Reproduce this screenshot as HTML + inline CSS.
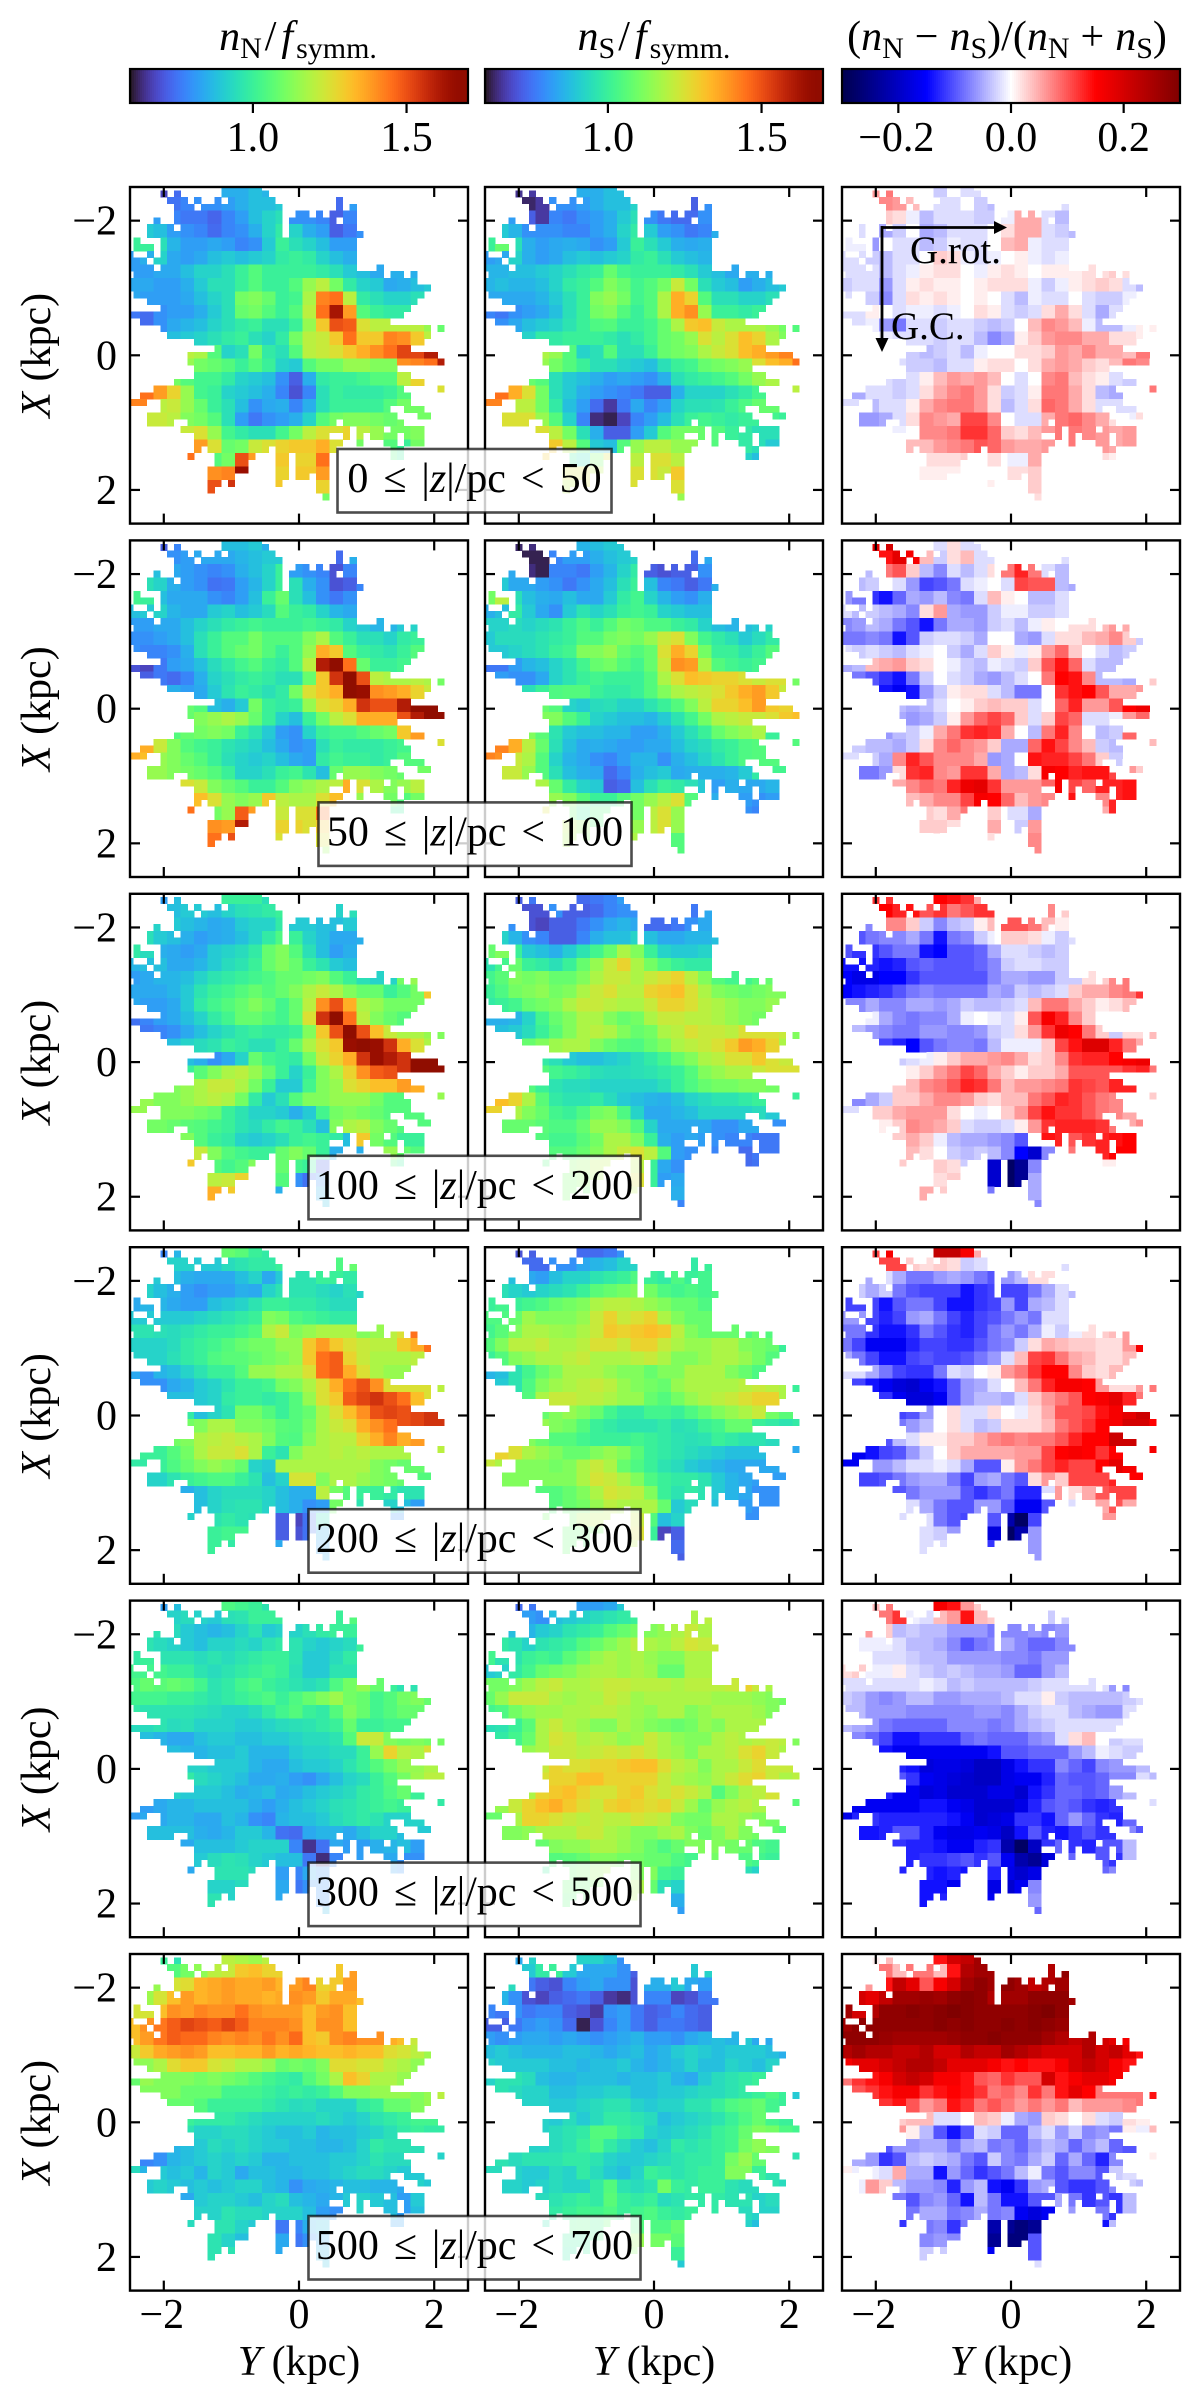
<!DOCTYPE html>
<html lang="en"><head><meta charset="utf-8"><title>Star density asymmetry maps</title>
<style>html,body{margin:0;padding:0;background:#fff}svg{display:block}text{font-family:"Liberation Serif",serif;fill:#000}</style></head>
<body>
<svg id="fig" xmlns="http://www.w3.org/2000/svg" width="1200" height="2406" viewBox="0 0 1200 2406">
<g id="maps"></g>
<g id="axes"></g>
<g font-size="42">
<text x="298" y="50" text-anchor="middle"><tspan font-style="italic">n</tspan><tspan font-size="30" dy="8">N</tspan><tspan dy="-8" dx="3">/</tspan><tspan dx="5" font-style="italic">f</tspan><tspan font-size="30" dy="8" dx="3">symm.</tspan></text>
<text x="654" y="50" text-anchor="middle"><tspan font-style="italic">n</tspan><tspan font-size="30" dy="8">S</tspan><tspan dy="-8" dx="3">/</tspan><tspan dx="5" font-style="italic">f</tspan><tspan font-size="30" dy="8" dx="3">symm.</tspan></text>
<text x="1007" y="50" text-anchor="middle">(<tspan font-style="italic">n</tspan><tspan font-size="30" dy="8">N</tspan><tspan dy="-8" dx="11">−</tspan><tspan dx="11" font-style="italic">n</tspan><tspan font-size="30" dy="8">S</tspan><tspan dy="-8">)/(</tspan><tspan font-style="italic">n</tspan><tspan font-size="30" dy="8">N</tspan><tspan dy="-8" dx="11">+</tspan><tspan dx="11" font-style="italic">n</tspan><tspan font-size="30" dy="8">S</tspan><tspan dy="-8">)</tspan></text>
</g>
<g id="annot">
<line x1="882" y1="227.5" x2="996" y2="227.5" stroke="#000" stroke-width="2.8"/>
<polygon points="1007,227.5 994,221 994,234" fill="#000"/>
<line x1="882" y1="226" x2="882" y2="340" stroke="#000" stroke-width="2.8"/>
<polygon points="882,352 875.500,338 888.500,338" fill="#000"/>
<text x="910" y="263" font-size="39">G.rot.</text>
<text x="891" y="339" font-size="39">G.C.</text>
</g>
<g id="legends"></g>
</svg>
<script>
// Shared grid bookkeeping: first 0.2 kpc block of each block row, and which 0.1 kpc bins hold stars.
const rowStart=[2,3,2,1,0,0,0,0,0,0,1,3,4,4,3,1,0,1,4,5,4,6,6,14];
const coverageRuns=["14-19","5 7 14-20","6-8 10 13 15-21 31","7-9 11-22 31 33","7-22 25-26 28 30-33","4 7-22 24-30 32-33","3-6 8-22 24-33","3-22 24-34","1 5-33","1-3 5-33","0 3 5-33","0-2 4-33","0-3 5-33 37","1-37 39-40 42","0-42","0-44","1-43","3-42","5-41","0-40","2-38","5-44 46","6-44","10-43","13-41","9-45","9-46","10-39","10-41","7-43","4-40 46","2-41","0-2 5-41","5-38 41-43","3-39 43-44","3-6 9-30 32-40","8-32 34-37 39-43","10-29 32 34 36-39 41-43","10-31 34 38-39 41-43","10 12-20 22-30 39-40","9 13-18 22-23 25-29 39-40","13-17 22-23 25-29","12-17 22-23 25-29","12-15 22-23 25-26 28-29","12-13 15 22 28-29","12 28-29","29"];
const heightBins=["0 ≤ |z|/pc < 50","50 ≤ |z|/pc < 100","100 ≤ |z|/pc < 200","200 ≤ |z|/pc < 300","300 ≤ |z|/pc < 500","500 ≤ |z|/pc < 700"];
const axisTicks=[-2,0,2];
const densityTicks=[1.0,1.5];
const asymmetryTicks=[-0.2,0.0,0.2];

// Values are hundredths of the mapped quantity.
const north0=[
[68,74,82,80,82,85,85,88,86],
[75,78,80,80,82,85,88,88,90,85,82,80,74,82],
[82,78,76,76,73,78,82,88,92,95,80,80,78,72,78],
[90,88,82,80,78,74,78,80,85,92,98,92,85,82,72,76,80],
[100,100,95,86,82,82,84,82,78,80,90,100,95,92,88,82,82],
[82,85,92,84,82,84,88,90,88,90,92,98,100,98,92,88,85],
[82,82,84,84,88,92,92,95,100,105,100,100,100,100,98,95,90,88,84,85,85,85],
[84,84,82,82,85,90,95,95,100,105,100,100,105,115,120,110,98,92,90,84,85,88,90],
[84,82,82,82,84,88,92,95,110,112,108,100,102,118,142,145,120,98,95,92,92,95],
[76,74,80,82,82,85,90,95,108,110,105,100,105,120,145,162,138,105,100,98,98],
[74,80,84,86,88,92,95,98,100,95,95,100,115,130,150,148,125,120,120,120,120,115,108],
[88,90,92,95,98,100,95,92,98,110,120,122,130,145,130,130,142,140,130,120],
[120,118,105,92,95,110,98,95,105,120,122,125,130,135,140,145,152,152,160],
[115,110,108,105,100,105,100,92,90,105,110,110,115,115,112,112,140,142,145,160],
[110,105,102,102,98,92,90,88,80,72,85,98,100,100,102,105,105,120,128],
[145,138,128,115,102,100,92,90,88,85,78,70,78,95,100,98,98,98,100,105,115,115,125],
[142,142,120,122,115,108,100,95,88,80,84,85,78,85,95,100,100,100,100,105,110,110],
[122,122,120,112,110,105,95,82,76,80,82,85,92,105,110,112,112,110,108,110,110,110],
[122,125,115,102,98,95,95,102,110,120,125,125,128,120,115,110,110,112],
[138,125,108,110,122,125,128,130,130,135,125,120,110,110,105,100,110],
[145,120,105,110,150,138,110,130,128,128,145,120,110,110,110,105,100],
[140,142,165,160,120,128,130,130,138],
[150,155,120,120,120,130,128,128,128],
[110]];
const south0=[
[65,66,80,80,82,85,85,88,88],
[63,66,80,80,82,85,88,88,92,88,75,74,72,80],
[82,72,66,78,76,80,82,85,90,95,80,76,74,74,80],
[90,86,80,80,80,78,78,82,85,92,98,90,82,80,76,78,85],
[100,108,95,85,82,84,85,84,80,82,90,100,95,90,85,84,85],
[82,84,92,85,82,84,88,90,88,90,92,98,100,95,90,88,86],
[86,86,88,88,90,92,95,98,100,108,102,100,100,100,98,95,90,88,84,85,85,85],
[86,88,86,86,88,92,98,100,105,112,108,102,105,110,122,110,95,90,88,82,85,88,90],
[84,84,84,84,86,90,95,100,112,115,110,102,105,118,135,128,105,95,95,92,92,95],
[78,76,80,82,84,88,95,100,110,112,105,100,105,118,135,140,115,100,100,98,100],
[80,84,88,90,92,96,100,104,105,100,100,102,108,118,130,132,122,118,118,118,115,110,105],
[92,98,98,100,100,100,98,95,98,102,108,110,115,125,120,125,132,128,118,112],
[118,115,105,92,95,105,95,95,100,108,110,112,118,122,125,132,135,138,142],
[115,110,105,100,95,95,92,90,88,95,100,102,108,110,112,115,125,132,135,145],
[108,105,95,90,88,85,82,84,82,80,85,95,98,100,102,105,110,115,118],
[145,135,125,110,95,90,85,82,80,78,76,72,72,85,92,92,92,95,98,102,110,115,120],
[142,142,120,120,110,98,88,82,74,66,76,84,78,82,92,95,95,96,100,104,108,108],
[125,125,125,115,105,92,78,64,62,68,78,82,88,95,100,102,100,98,100,100,102,100],
[125,120,110,95,85,72,72,82,90,105,110,110,108,105,100,98,95,95],
[130,120,105,90,88,105,115,120,120,115,115,112,105,100,98,95,90],
[130,120,100,95,110,125,115,120,125,125,120,115,105,98,96,92,88],
[125,125,120,120,125,125,125,122,130],
[120,125,120,120,122,125,125,125,125],
[115]];
const ratio0=[
[6,8,5,0,-2,-3,0,-2,-2],
[7,6,4,0,-2,-2,0,-3,-4,0,3,5,0,-2],
[0,3,2,-1,-4,-2,-2,-2,-3,-3,-1,5,5,-2,-4],
[-2,0,-5,-3,0,-5,-4,-2,-2,-2,0,2,5,5,-2,-3,-4],
[-1,-1,-6,0,-2,-2,-4,-3,-1,-2,-2,0,4,5,-1,-2,-2],
[-2,-2,-3,-4,-2,-2,0,3,2,-1,-2,-1,0,1,-1,-2,-1],
[-2,-2,-2,-4,-2,-1,1,2,2,0,-1,1,2,1,0,1,1,1,2,2,3,2],
[-3,-2,-2,-6,-2,1,2,1,1,0,1,2,2,2,-1,-3,-1,1,2,3,2,-2,-4],
[-2,0,-3,-7,-2,2,1,2,1,0,1,0,-2,-4,-1,-2,-2,0,-2,-3,-3,-1],
[-2,-2,1,0,-2,-1,-1,-2,-1,0,2,1,-2,-3,-2,2,5,2,-2,-5,-2],
[-2,-1,-6,-8,-2,-2,-3,-2,-2,-3,-4,-3,0,4,7,6,4,-1,-4,-4,-1,1,1],
[-1,-2,-2,-2,-3,-2,-2,-4,-7,-5,1,3,6,7,7,5,5,2,2,1],
[0,-3,-4,-3,-2,-4,-1,0,0,2,2,3,6,5,7,5,5,4,8],
[-2,-3,-3,-4,-2,-2,1,2,2,0,2,5,6,5,3,2,4,8,7,0],
[-2,-3,-2,1,4,6,5,6,4,0,-2,0,7,8,4,2,1,-2,-3],
[-5,-2,-2,-3,-2,2,5,7,8,6,2,-3,-2,1,8,8,5,2,-4,-5,-2,4,8],
[-2,-2,-4,-2,-2,1,5,7,8,8,6,2,-4,-2,2,9,8,5,2,-2,-2,-2],
[-6,-6,-5,-2,2,7,6,5,11,11,7,0,-2,-2,5,8,9,7,5,2,-1,2],
[-1,0,7,7,8,12,12,9,3,2,4,6,8,8,7,6,5,6],
[4,4,6,7,8,10,9,6,5,5,6,6,8,7,6,5,6],
[0,1,2,2,2,3,3,2,-1,-1,5,7,6,4,2,2,1],
[1,1,1,1,1,0,2,2,3],
[0,0,0,0,0,1,3,4,3],
[2]];

const north1=[
[72,78,82,84,85,88,88,90,85],
[80,82,84,84,84,86,88,90,90,85,82,80,74,85],
[88,84,82,80,78,80,85,88,92,100,82,80,78,70,78],
[95,92,85,82,80,75,76,82,86,92,100,95,85,80,70,72,78],
[102,100,88,84,84,84,80,78,82,88,100,108,95,88,80,76,80],
[88,90,92,86,84,84,90,92,88,90,94,105,100,98,92,86,84],
[82,82,84,84,88,92,95,98,100,102,100,100,100,102,100,98,92,90,86,86,90,92],
[80,80,82,84,88,95,100,105,105,110,105,105,105,112,118,105,100,95,95,92,98,100],
[80,78,78,80,85,95,100,105,108,110,105,100,105,115,135,130,105,100,98,96,100,105],
[70,68,76,82,84,88,94,98,102,105,100,98,105,120,160,172,145,108,100,100,102],
[72,76,74,78,85,92,95,98,100,98,95,95,108,130,155,175,150,120,118,118,120,118,110],
[85,82,84,90,96,100,98,95,98,110,125,130,135,170,165,140,138,135,128,122],
[108,105,88,85,90,110,100,98,100,115,125,128,135,155,150,150,160,172,175],
[108,112,115,118,115,108,100,92,88,100,110,120,125,135,135,135,150,160,172,172],
[105,108,110,112,110,100,96,90,82,80,92,100,102,102,105,108,110,130,138],
[135,122,112,105,102,100,96,94,92,88,84,80,82,95,100,98,98,98,100,102,108,110,125],
[135,132,115,112,108,105,100,95,92,90,92,88,84,82,98,102,100,100,98,100,105,105],
[115,115,112,110,108,105,100,92,92,95,100,102,96,88,108,115,115,112,110,108,110,110],
[125,122,112,108,105,100,100,105,112,115,118,120,135,125,118,112,115,120],
[132,125,115,112,115,130,120,118,118,125,132,125,115,110,110,105,110],
[145,125,110,115,148,138,112,122,125,125,145,125,110,105,105,100,100],
[140,138,160,165,125,128,128,125,130],
[145,150,125,120,122,125,125,125,125],
[115]];
const south1=[
[63,64,78,80,84,86,88,90,90],
[62,62,78,82,82,85,88,90,92,88,72,72,74,84],
[84,64,62,78,78,76,82,86,92,98,72,70,72,72,80],
[90,84,84,82,80,76,80,84,88,95,100,88,78,76,72,76,85],
[110,120,95,88,85,84,88,84,84,90,98,102,92,86,82,80,85],
[85,88,98,90,84,80,90,96,92,95,100,102,100,92,90,88,88],
[92,92,94,92,94,96,100,104,100,105,110,108,104,104,100,98,92,88,86,88,90,92],
[90,94,94,94,96,98,100,105,105,110,112,110,115,122,125,112,102,98,95,90,94,98],
[90,90,92,94,96,100,102,112,112,115,108,105,108,125,135,128,110,100,100,96,100,105],
[76,76,82,86,88,92,96,102,108,110,105,102,108,122,140,138,118,105,102,100,102],
[82,80,80,84,92,96,100,102,100,100,100,105,118,125,132,130,128,128,125,122,125,125,110],
[95,100,104,105,105,100,98,98,100,105,112,118,120,122,125,130,135,138,130,122],
[108,105,92,90,94,95,92,92,96,100,105,112,120,128,128,132,138,130,128],
[112,112,105,100,92,90,88,88,86,90,96,102,110,118,120,122,122,125,130,132],
[112,106,96,90,88,88,86,86,82,82,85,90,95,100,108,112,115,118,100],
[142,135,120,108,95,88,84,85,84,82,82,84,84,88,92,94,98,100,104,105,108,108,105],
[142,140,122,118,105,92,86,84,80,78,82,86,86,80,85,88,92,96,100,104,105,105],
[122,122,115,105,95,88,85,84,74,78,85,88,90,84,85,85,85,86,90,98,102,102],
[118,108,98,92,90,72,74,88,95,100,98,95,90,82,85,84,84,86],
[115,112,105,100,100,105,110,115,120,125,105,85,85,82,82,80,82],
[125,115,108,100,105,105,105,110,120,125,115,100,95,90,85,80,78],
[120,115,105,105,110,115,120,125,115],
[118,112,110,110,115,118,122,118,105],
[105]];
const ratio1=[
[18,20,10,4,4,-2,2,-2,-2],
[14,18,16,4,-3,2,4,-2,-2,-3,5,6,0,-2],
[-4,8,10,3,-4,-7,-2,-4,-2,2,8,13,8,-2,-4],
[-4,-3,0,-2,-6,-11,-10,-8,-2,-1,0,-2,11,10,10,-4,-5],
[-6,-8,-12,-14,-9,-5,-6,-4,-7,-8,-2,4,1,0,-4,-4,-2],
[-2,-4,-3,-4,-5,-7,2,6,-5,-6,-6,-3,-1,-1,-3,-3,-2],
[-7,-6,-4,-5,-8,-10,-14,-8,-5,-5,-6,-3,-2,-4,-1,1,0,2,2,4,6,5],
[-8,-8,-7,-8,-14,-10,-3,-2,-2,-3,-5,0,0,-5,-6,-2,2,2,4,5,7,3,-3],
[-2,-3,-2,-3,-4,-2,-1,0,-3,-5,-2,3,1,-1,1,6,9,3,0,-2,-4,-3],
[-5,-4,4,5,6,3,2,0,-1,-3,-4,-1,-2,-3,3,10,14,9,-2,-4,-4],
[-8,-10,-12,-14,-8,-3,0,-2,-3,-5,-6,-4,-2,0,8,15,14,7,-4,-4,-5,0,3],
[-14,-16,-14,-6,-3,1,2,2,-2,-4,-8,-8,0,12,14,15,10,5,5,6],
[-4,-5,-4,-2,0,1,3,4,3,3,-2,0,9,13,6,6,10,15,17],
[-5,-6,-5,-3,1,6,9,11,9,3,-2,3,11,9,-2,-2,-1,6,9,0],
[-6,-4,-3,-1,5,8,12,13,12,5,0,-4,8,13,7,0,-4,-3,9],
[-3,-4,-4,-5,-3,2,7,9,7,6,3,-5,-5,9,14,11,7,4,-3,-4,-2,4,4],
[-2,-2,-3,-5,7,13,10,7,7,7,5,-6,-5,0,14,13,13,11,8,3,-3,0],
[-8,-8,-6,2,12,13,7,6,12,12,5,-5,-4,2,16,15,13,14,14,11,6,3],
[5,7,9,8,13,17,18,12,6,6,6,9,16,11,9,13,13,14],
[4,5,7,7,11,16,15,9,4,6,7,11,14,9,7,13,14],
[0,2,3,2,5,8,8,3,-2,-2,-5,7,9,4,2,5,13],
[3,3,2,0,4,5,0,-3,6],
[0,0,0,0,0,2,-4,-4,7],
[7]];

const north2=[
[82,88,95,92,96,100,100,100,95],
[88,90,90,88,92,95,96,98,100,94,92,90,92,95],
[92,90,88,86,84,85,90,92,92,98,90,90,88,88,90],
[95,90,88,85,82,84,85,88,92,98,104,100,92,88,84,84,85],
[98,94,85,84,82,84,90,92,94,98,108,112,105,95,88,82,85],
[86,88,88,84,84,86,90,94,96,100,108,112,108,100,96,90,88],
[82,84,86,86,88,92,96,98,100,102,104,108,108,110,112,105,100,95,92,92,110,115],
[84,84,84,86,90,96,100,102,105,108,105,108,112,118,122,118,112,108,108,100,105,110,130],
[84,82,82,84,90,98,102,105,108,112,108,102,108,120,140,150,135,118,115,110,110,110],
[75,78,82,84,88,92,98,102,108,108,105,102,108,125,155,175,145,120,112,108,105],
[76,78,80,84,88,92,95,98,100,98,98,100,112,130,150,170,150,132,122,118,118,115,112],
[88,92,94,96,100,98,95,95,100,108,118,125,130,165,172,165,155,135,125,118],
[88,85,80,84,92,108,102,100,98,110,122,128,135,155,165,160,155,172,175],
[100,106,112,118,120,115,108,100,92,100,112,118,128,140,148,150,155,175,178,178],
[112,115,118,122,122,118,110,100,90,90,102,112,115,125,128,132,132,138,135],
[115,112,112,115,118,120,118,110,98,90,95,105,112,112,115,115,115,110,105,105,108,108,115],
[115,115,112,112,112,110,108,100,96,92,92,90,85,90,102,110,112,110,108,105,105,105],
[110,110,108,106,105,102,100,96,94,98,102,100,95,88,112,118,120,112,108,105,105,105],
[112,105,100,98,92,90,92,95,100,102,100,98,88,130,110,105,100,100],
[122,112,105,102,100,100,108,112,108,100,85,78,85,128,115,108,105],
[130,115,105,102,105,112,112,108,102,100,72,68,75,115,110,105,100],
[120,122,128,125,110,105,80,75,80],
[135,130,120,115,108,85,75,80,85],
[88]];
const south2=[
[72,76,82,80,78,74,76,78,82],
[70,70,80,72,72,74,78,80,80,75,75,76,76,84],
[80,70,68,72,72,76,80,84,86,84,74,74,76,80,84],
[92,86,80,78,72,72,78,85,88,88,92,88,84,84,86,86,88],
[108,112,100,90,88,85,90,96,102,108,118,112,100,92,90,90,92],
[96,102,108,100,98,95,100,108,115,122,128,118,110,104,100,98,98],
[102,106,112,110,112,108,108,112,118,122,122,118,122,125,128,120,112,105,102,102,105,108],
[100,104,110,112,114,110,112,118,122,125,120,120,128,130,132,125,118,112,110,108,110,112,112],
[98,100,102,108,110,112,118,122,122,120,118,118,122,128,128,125,120,118,115,112,112,115],
[85,85,86,92,102,108,112,118,118,112,108,110,118,122,122,120,120,118,115,112,110],
[88,90,94,100,106,112,118,120,118,112,108,110,118,120,125,122,122,120,125,125,125,122,112],
[108,112,116,118,118,112,108,105,104,108,112,118,120,122,125,130,138,135,128,118],
[98,95,90,88,88,90,92,95,98,102,108,112,118,120,125,125,130,125,122],
[105,102,100,98,95,94,94,95,96,98,100,105,112,115,118,118,122,125,125,125],
[105,100,96,94,94,92,92,92,92,92,95,100,104,108,110,110,112,112,110],
[132,128,118,106,98,96,96,98,94,90,88,86,85,88,92,94,96,96,98,100,98,96,100],
[128,128,118,112,108,102,100,104,110,112,104,92,84,84,86,88,92,92,92,92,94,90],
[108,108,108,106,104,104,108,115,115,112,105,92,84,84,84,84,80,80,84,84,80,80],
[105,102,102,106,110,118,118,112,100,85,82,84,82,80,78,78,76,76],
[105,105,108,112,118,122,125,120,105,82,80,80,78,78,74,76,76],
[105,108,112,115,120,120,125,120,100,84,80,80,78,75,72,74,75],
[110,112,118,122,125,125,100,82,84],
[110,108,112,118,125,120,96,80,85],
[78]];
const ratio2=[
[12,12,12,8,14,15,14,12,5],
[15,13,14,10,12,8,10,12,12,8,10,8,7,3],
[-7,7,7,3,-3,-7,-4,-3,1,4,10,10,8,4,1],
[-10,-8,-7,-7,-5,-8,-14,-8,-7,-3,-1,3,3,2,-1,-3,-2],
[-10,-12,-12,-10,-8,-8,-14,-15,-10,-10,-9,-5,-2,-2,-3,-4,-3],
[-14,-14,-13,-14,-13,-10,-9,-10,-10,-10,-9,-7,-3,-2,-2,-3,-3],
[-15,-17,-17,-15,-15,-12,-10,-10,-10,-10,-10,-7,-5,-5,-6,-6,-3,-3,2,3,7,8],
[-15,-14,-13,-12,-10,-8,-7,-8,-8,-8,-8,-5,-6,-3,-4,-3,-2,3,5,5,7,8,12],
[-7,-7,-5,-7,-7,-5,-5,-6,-5,-3,-4,-4,-3,-2,4,8,8,5,3,1,2,4],
[0,0,-1,-5,-7,-8,-7,-7,-5,-1,0,-1,-2,1,10,16,13,7,3,0,0],
[-4,-6,-7,-8,-8,-6,-6,-7,-7,-6,-3,-2,2,6,12,17,15,8,3,-3,2,2,4],
[-11,-13,-15,-10,-8,-7,-7,-8,-4,-1,-1,-1,3,11,14,19,19,13,8,5],
[-3,-2,-1,1,3,5,5,6,7,5,2,3,7,12,13,13,15,16,17],
[0,1,3,6,8,11,9,5,3,1,3,3,5,10,10,10,10,12,13,8],
[0,3,4,7,8,10,13,12,8,4,6,6,7,8,12,11,10,13,13],
[-7,-5,-3,3,3,5,7,7,6,3,2,4,4,8,10,13,12,10,8,7,5,4,3],
[-2,-2,3,3,5,6,6,6,2,0,-1,0,3,6,11,14,12,12,10,8,7,5],
[0,0,1,3,7,6,5,3,-2,-3,-3,-2,1,6,12,13,13,13,12,8,5,7],
[3,5,3,-1,-4,-5,-5,-6,-7,-10,0,14,13,10,12,13,14,15],
[4,2,0,-3,-4,-3,-4,-7,-15,-19,-7,12,8,8,13,15,15],
[3,2,0,3,2,-3,-5,-19,-28,-24,-7,5,3,2,1,1,1],
[0,2,3,1,-4,-19,-28,-24,-5],
[5,3,2,0,-2,-8,-8,-4,-5],
[-7]];

const north3=[
[78,86,100,104,106,108,106,100,98],
[92,92,90,90,94,96,98,98,100,98,98,98,104,108],
[90,88,85,84,84,84,88,92,84,90,96,96,100,100,98],
[92,88,85,82,80,82,82,85,84,92,96,96,96,94,92,95,92],
[84,86,86,84,82,82,88,90,92,96,100,100,98,98,96,94,94],
[90,90,90,90,90,92,94,96,98,100,112,110,104,102,100,98,98],
[96,96,95,94,96,98,100,100,102,105,118,122,112,115,118,118,118,112,115,120,125,145],
[92,92,92,94,98,100,102,105,108,110,110,115,115,130,138,130,125,122,120,120,130,135,145],
[92,92,92,95,98,100,104,106,106,108,110,112,115,130,145,148,128,122,118,118,118,120],
[84,80,86,88,92,96,100,100,105,115,115,118,118,125,145,148,135,125,118,115,115],
[80,80,84,86,90,92,96,100,100,102,110,112,118,125,135,145,150,140,125,125,125,125,120],
[88,88,90,92,98,100,100,98,100,105,115,125,130,148,152,155,150,145,132,125],
[98,88,92,96,110,110,105,100,105,108,118,125,132,140,150,152,150,152,155],
[110,112,118,118,112,112,110,106,105,110,118,122,125,135,140,145,150,152,155,155],
[110,112,118,120,122,120,118,112,105,104,112,118,120,120,128,135,142,135,138],
[100,100,105,110,118,122,122,125,118,100,96,112,118,118,120,118,120,118,118,118,112,110,120],
[98,98,100,104,108,112,115,112,108,92,90,118,118,118,118,118,118,118,112,110,108,108],
[92,92,96,100,102,104,104,100,96,88,92,124,124,112,118,118,115,112,110,108,105,105],
[85,88,92,94,94,94,92,88,85,85,120,110,105,100,100,98,96,96],
[88,92,95,96,96,92,88,85,80,82,110,98,96,92,92,88,82],
[92,94,96,98,96,95,88,72,68,75,95,92,90,85,82,80,80],
[100,102,102,100,98,72,70,75,85],
[100,98,96,95,92,84,74,78,82],
[84]];
const south3=[
[70,72,82,84,82,74,74,76,80],
[74,74,80,80,84,86,88,92,92,90,92,95,98,100],
[88,84,82,88,92,92,96,98,100,104,100,98,104,100,102],
[95,92,90,92,94,96,100,106,108,110,112,110,104,102,104,102,104],
[100,102,100,102,104,108,110,112,118,120,120,118,115,112,108,108,104],
[104,104,108,116,112,112,112,115,122,128,122,125,128,118,112,108,108],
[102,106,112,118,118,116,115,118,122,130,128,130,132,130,120,112,108,108,108,105,108,105],
[105,112,120,120,122,118,118,120,125,125,122,128,128,122,118,115,115,118,118,112,110,108,100],
[100,105,112,115,118,118,120,122,118,118,118,120,122,118,112,112,115,118,118,115,110,105],
[86,88,96,102,108,112,118,118,118,115,112,112,108,112,112,118,118,118,112,108,104],
[90,96,104,112,116,118,120,122,120,115,112,110,108,115,118,118,118,118,120,122,120,118,100],
[105,118,122,122,120,120,118,115,115,108,105,110,115,118,120,122,125,128,128,118],
[108,112,115,112,108,102,98,98,102,102,100,104,108,112,115,118,122,110,106],
[115,112,110,105,100,98,96,96,96,98,95,96,100,102,108,108,100,98,96,98],
[112,108,105,105,102,100,100,100,102,100,98,96,95,96,100,98,96,96,94],
[128,125,118,115,112,108,108,112,115,112,106,100,98,96,94,92,90,88,88,88,88,84,84],
[122,118,112,112,112,110,112,118,122,118,108,104,100,96,94,90,88,86,84,84,84,84],
[112,112,112,112,112,112,118,124,122,118,112,104,100,98,98,96,90,86,84,82,82,82],
[105,105,108,112,118,124,122,120,112,100,96,98,96,90,86,84,80,80],
[105,108,110,115,120,118,118,118,108,90,94,92,88,84,82,80,80],
[110,108,110,118,120,120,125,122,105,88,92,88,85,82,80,80,80],
[108,108,110,115,125,125,100,68,72],
[108,105,105,112,120,120,102,76,74],
[72]];
const ratio3=[
[11,16,6,3,5,22,22,16,5],
[11,11,3,2,3,2,-3,-2,0,2,3,2,0,-2],
[-5,-2,-5,-8,-8,-6,-5,-6,-8,-10,-6,-4,2,2,0],
[-3,-5,-3,-8,-10,-11,-11,-11,-14,-12,-11,-11,-11,-8,-5,-2,-4],
[-11,-11,-11,-14,-10,-8,-8,-11,-14,-14,-12,-11,-6,-11,-5,-4,-2],
[-6,-6,-11,-13,-11,-6,-5,-8,-11,-13,-11,-10,-8,-6,-8,-2,-2],
[-8,-8,-12,-14,-14,-12,-8,-10,-12,-13,-11,-8,-6,-8,-5,-1,-3,-1,2,3,4,6],
[-8,-11,-16,-16,-16,-13,-11,-11,-12,-12,-10,-8,-7,-3,2,5,4,3,3,2,2,6,16],
[-5,-8,-11,-14,-14,-11,-10,-11,-11,-10,-8,-6,-2,4,11,12,8,5,4,2,2,4],
[-2,-2,-5,-8,-11,-12,-12,-8,-2,-3,0,1,6,8,12,15,15,7,3,2,4],
[-11,-14,-16,-18,-19,-16,-14,-10,-6,-5,-2,0,4,8,13,16,16,15,6,2,2,6,8],
[-12,-16,-18,-18,-16,-10,-6,-4,-4,-5,-2,3,6,8,10,15,16,18,13,8],
[-11,-10,-6,0,2,-2,-2,2,0,-1,2,5,10,10,11,14,16,18,21],
[-8,-6,-4,0,2,-2,-4,-3,2,2,2,4,8,10,12,15,16,20,20,15],
[-10,-4,-2,1,1,3,3,5,7,8,7,8,8,10,13,15,15,21,21],
[-16,-14,-11,-10,-6,-3,0,3,5,5,5,5,6,6,11,15,16,15,12,15,19,19,16],
[-16,-16,-6,-6,-4,-2,-2,-1,-2,-5,-10,-10,1,6,8,11,13,11,11,15,18,16],
[-11,-11,-10,-8,-6,-5,-5,-8,-11,-6,-5,-8,-10,2,6,3,11,11,11,13,15,15],
[-10,-8,-6,-6,-6,-10,-12,-10,-8,-13,-13,-2,6,2,5,10,11,11],
[-2,-5,-8,-10,-10,-6,-6,-10,-16,-16,-10,0,-2,2,5,10,5],
[-2,-1,-2,-8,-10,-11,-11,-10,-22,-28,-11,-4,-2,0,2,6,6],
[-2,-3,-6,-8,-8,-18,-28,-22,-6],
[-2,-2,0,0,-2,-12,-18,-3,-6],
[-6]];

const north4=[
[82,88,94,96,100,104,102,100,96],
[92,94,92,90,95,96,100,100,100,96,94,94,100,105],
[96,94,90,88,86,88,92,96,90,92,92,95,98,100,100],
[96,94,92,90,88,92,92,94,92,96,98,96,92,90,92,94,100],
[98,100,96,96,96,94,96,94,96,98,100,100,96,90,90,94,98],
[102,102,102,100,100,96,94,96,98,100,102,100,95,90,90,96,96],
[104,108,106,108,106,102,96,98,102,104,100,98,96,94,96,104,110,115,108,100,96,96],
[102,102,102,100,100,98,96,98,100,102,104,100,104,108,112,116,110,108,102,105,110,112,108],
[98,96,96,96,96,95,94,92,92,94,98,102,105,100,98,105,112,108,102,105,108,108],
[94,94,96,94,95,92,92,92,90,90,92,94,95,96,98,100,108,100,100,102,102],
[88,86,84,84,88,90,90,88,88,90,90,92,94,94,96,105,122,122,112,110,112,110,110],
[88,86,86,88,88,90,86,86,86,90,92,92,94,94,100,115,128,120,118,125,125,120],
[92,92,90,90,90,86,84,84,88,90,90,92,96,100,105,110,115,115,118],
[98,94,92,90,88,84,84,85,82,80,84,88,92,94,100,105,110,116,120,120],
[92,90,90,90,88,85,86,88,84,85,88,90,92,94,98,100,104,108,100],
[82,84,86,86,88,88,88,88,85,82,85,88,90,92,95,96,98,100,102,100,98,100,98],
[82,84,84,86,86,84,84,88,86,80,78,86,88,88,90,94,96,98,96,92,92,92],
[88,88,88,88,85,84,86,90,90,86,75,74,84,86,86,84,88,92,92,88,90,90],
[84,88,88,88,90,92,92,92,78,65,75,84,82,82,85,86,88,82],
[90,94,96,95,92,90,88,88,76,64,78,86,82,88,84,80,80],
[84,92,96,96,96,94,90,82,78,84,80,80,84,82,84,82,80],
[92,92,94,96,92,84,76,80,80],
[96,92,90,90,90,84,82,80,80],
[86]];
const south4=[
[74,76,86,86,84,82,82,84,90],
[82,80,88,90,92,94,96,98,100,100,104,108,118,120],
[88,86,90,92,96,98,100,105,108,110,112,115,118,122,118],
[98,96,92,96,98,100,105,108,112,116,120,118,116,120,124,122,122],
[102,96,96,100,102,100,106,110,115,118,116,118,115,112,112,118,118],
[90,92,98,102,108,110,112,116,118,118,116,118,116,108,108,118,118],
[110,110,112,116,120,122,118,118,120,122,122,120,120,120,118,120,120,120,122,128,122,118],
[108,115,122,122,122,118,116,118,118,122,120,116,118,118,118,118,118,116,116,116,114,112,110],
[102,104,110,114,116,116,118,118,120,120,118,116,114,118,118,112,115,118,118,118,116,112],
[95,96,100,106,118,122,118,116,112,112,118,115,112,110,108,110,115,112,118,118,118],
[98,102,108,118,124,122,118,120,118,114,116,122,118,114,112,112,118,120,118,120,122,120,112],
[115,118,122,122,120,122,124,122,125,122,118,116,112,118,118,120,125,128,122,118],
[122,128,125,125,128,128,130,132,132,126,120,118,112,118,118,122,126,122,122],
[125,128,128,132,132,128,128,128,128,122,118,116,114,118,122,126,128,122,118,120],
[118,128,130,132,128,124,124,128,130,125,122,125,122,118,105,112,118,120,124],
[115,122,128,132,135,130,126,122,128,130,128,126,128,122,116,108,115,118,120,118,118,112,106],
[108,108,118,128,128,125,122,120,122,120,120,124,122,120,112,110,110,118,118,115,112,110],
[112,112,114,118,118,118,122,122,118,116,112,112,116,118,112,108,112,118,112,110,108,106],
[108,112,114,114,118,118,115,112,108,104,108,112,112,112,110,108,104,102],
[105,106,108,112,112,110,110,108,108,104,102,108,110,108,104,102,100],
[100,108,108,110,115,118,118,112,112,102,100,100,100,98,98,95,92],
[108,108,110,112,118,118,108,95,92],
[106,106,108,110,116,118,112,90,85],
[82]];
const ratio4=[
[4,8,12,16,18,16,14,6,3],
[8,12,-1,-2,4,6,14,4,3,-6,-4,-3,-3,-3],
[6,3,-4,-3,-4,-4,-6,-6,-6,-8,-7,-7,-6,-7,-6],
[-1,-1,-1,-2,-4,-4,-5,-7,-10,-8,-7,-5,-7,-9,-9,-7,-7],
[0,0,-2,-2,-2,-3,-4,-4,-6,-6,-6,-6,-7,-7,-8,-6,-6],
[2,3,-1,-1,1,-2,-3,-4,-3,-4,-5,-5,-6,-9,-9,-6,-4],
[-2,-2,-2,-2,-2,-2,-1,-2,-4,-3,-4,-4,-4,-4,-3,-2,-2,-2,-2,-2,-6,-7],
[-3,-4,-6,-7,-6,-4,-4,-6,-6,-5,-5,-5,-4,-2,-2,1,-3,-4,-4,-4,-4,-3,-2],
[-4,-4,-6,-6,-6,-7,-7,-7,-7,-7,-6,-6,-7,-5,-3,-2,-2,-4,-5,-6,-6,-2],
[-4,-5,-6,-8,-9,-9,-9,-9,-7,-7,-7,-8,-7,-5,-4,-3,-2,-2,-2,-2,-2],
[-7,-9,-11,-14,-14,-12,-12,-12,-9,-8,-9,-9,-9,-7,-6,-2,2,4,0,-3,-2,-2,0],
[-14,-16,-16,-16,-16,-16,-16,-16,-14,-10,-10,-9,-9,-9,-6,-4,-1,-2,-3,-3],
[-13,-14,-18,-17,-17,-18,-20,-20,-17,-14,-12,-12,-7,-9,-11,-7,-6,-6,-4],
[-10,-12,-16,-17,-18,-19,-20,-20,-17,-16,-16,-13,-9,-10,-10,-9,-7,-7,-2,-4],
[-13,-16,-16,-18,-17,-19,-19,-19,-17,-17,-19,-14,-12,-9,-9,-10,-9,-6,-4],
[-16,-16,-16,-16,-16,-14,-14,-16,-17,-19,-19,-19,-17,-13,-10,-9,-10,-12,-13,-12,-10,-7,-2],
[-17,-13,-12,-13,-13,-13,-13,-13,-14,-16,-19,-18,-17,-12,-12,-14,-9,-6,-9,-12,-13,-9],
[-14,-14,-13,-10,-10,-13,-16,-17,-17,-16,-17,-20,-14,-10,-13,-14,-12,-10,-12,-12,-7,-10],
[-12,-13,-13,-14,-16,-16,-13,-12,-22,-28,-20,-12,-9,-12,-13,-10,-10,-4],
[-13,-12,-12,-11,-10,-12,-10,-16,-22,-24,-18,-12,-9,-7,-10,-12,-4],
[-13,-13,-13,-14,-13,-14,-13,-13,-17,-19,-17,-12,-3,-4,-6,-9,-7],
[-14,-14,-16,-14,-13,-17,-19,-16,-7],
[-14,-13,-9,-7,-6,-16,-14,-10,-6],
[-9]];

const north5=[
[100,96,104,116,118,120,118,116,120],
[105,110,114,120,122,130,132,128,128,140,126,126,130,138],
[115,124,126,134,136,138,136,136,138,134,138,142,128,130,138],
[116,124,132,138,134,136,138,136,136,134,136,140,138,130,136,136,132],
[124,124,132,140,138,142,140,140,145,140,138,138,138,132,138,140,132],
[132,140,144,148,152,150,148,152,148,142,142,142,140,132,140,140,132],
[132,138,144,148,146,146,142,140,142,140,144,140,146,132,130,140,142,140,140,135,132,122],
[122,130,136,138,140,138,132,132,134,134,138,134,136,134,132,132,134,132,132,126,124,120,116],
[114,114,118,126,130,130,124,122,118,118,115,108,110,108,112,126,126,124,124,120,118,114],
[108,115,112,112,112,110,112,110,108,105,102,100,98,105,110,118,132,128,118,118,115],
[112,112,112,108,108,108,102,102,102,100,98,100,98,100,105,112,112,115,115,115,112,115,120],
[108,108,105,100,100,100,100,98,96,94,95,92,92,92,98,100,108,108,112,115],
[100,98,98,98,96,94,92,92,92,92,94,92,90,92,96,98,100,102,102],
[96,92,92,94,94,92,90,88,88,90,86,88,88,90,92,95,98,100,98,98],
[86,88,90,94,92,94,92,90,90,88,88,86,86,88,92,98,96,96,95],
[78,80,86,88,90,92,90,92,90,86,86,88,88,88,90,90,92,96,94,94,96,90,92],
[94,86,90,88,90,86,92,90,84,88,88,86,86,88,88,90,92,94,94,92,90,90],
[90,92,90,88,90,88,90,92,92,88,86,80,84,85,86,88,88,86,86,84,92,90],
[84,90,92,92,90,88,92,94,88,86,84,86,90,92,90,88,82,90],
[92,92,96,94,94,92,92,92,88,82,80,88,92,90,88,82,88],
[94,94,96,96,92,90,86,76,78,85,88,88,90,90,88,82,82],
[96,92,88,90,92,84,76,80,84],
[96,96,95,92,90,84,84,86,86],
[88]];
const south5=[
[84,92,96,96,100,92,92,88,80],
[90,98,100,90,84,84,84,80,72,76,82,84,90,92],
[94,76,72,70,78,82,84,80,80,70,85,85,90,84,82],
[86,80,70,68,72,74,76,72,66,64,70,78,78,68,70,76,76],
[78,76,80,76,78,78,72,70,66,80,82,76,72,74,78,74,72],
[72,72,76,80,82,80,74,62,70,78,82,76,72,76,76,74,72],
[82,80,82,84,84,82,84,82,80,82,84,86,82,82,80,84,86,88,86,90,84,84],
[88,90,88,86,86,86,88,88,86,84,86,88,84,86,90,92,90,88,90,90,90,88,85],
[92,90,90,90,90,88,88,86,88,88,90,86,84,86,88,92,88,88,92,90,88,92],
[92,96,96,94,88,86,86,88,88,88,86,88,88,90,86,84,90,94,96,98,100],
[96,94,92,92,88,88,90,90,92,92,88,88,90,90,92,94,94,96,98,100,104,100,90],
[92,92,90,90,92,94,96,96,92,90,92,92,96,96,100,104,106,108,102,100],
[92,90,94,90,94,98,98,96,94,88,90,92,94,96,100,104,108,102,100],
[92,94,96,98,105,105,100,98,92,90,92,94,96,100,102,108,112,110,104,102],
[92,92,94,96,100,104,98,94,90,88,92,98,96,98,100,102,110,114,112],
[96,94,96,96,96,98,98,96,92,90,90,92,94,96,98,98,100,110,115,108,100,96,96],
[94,94,92,90,90,94,92,98,94,90,88,92,100,98,96,98,100,100,112,112,100,96],
[92,92,90,92,94,92,92,98,105,96,94,96,110,100,98,100,100,96,94,94,96,94],
[94,96,98,100,98,106,100,98,100,94,96,98,98,98,96,96,92,94],
[98,100,102,102,104,100,102,104,100,98,100,102,98,96,94,92,92],
[96,100,104,105,102,108,108,105,104,104,108,104,96,92,90,92,88],
[100,100,104,108,112,115,110,110,106],
[98,100,102,104,108,112,108,104,100],
[90]];
const ratio5=[
[1,4,9,7,-2,14,20,22,26],
[8,4,8,8,4,14,24,26,26,28,22,20,24,28],
[6,14,22,18,10,16,20,26,28,26,28,26,22,24,26],
[20,18,22,26,26,27,26,28,29,28,24,26,26,28,28,28,26],
[26,20,24,28,28,29,28,29,30,29,28,28,28,28,29,30,28],
[26,28,28,28,28,28,28,29,28,29,28,28,29,28,29,28,27],
[28,28,28,27,26,26,26,26,27,28,28,29,28,28,28,26,24,22,24,20,18,16],
[24,26,24,24,22,22,24,20,20,24,22,22,26,24,22,20,20,20,24,20,22,18,14],
[16,18,18,20,22,24,24,22,18,18,18,16,14,15,14,14,16,20,22,20,16,14],
[8,12,14,16,20,22,20,16,16,14,10,9,12,10,10,20,14,16,18,18,16],
[10,12,14,16,16,12,14,15,14,12,8,9,7,12,8,14,18,15,8,8,8,8,14],
[12,14,10,6,8,14,12,8,10,8,6,8,6,8,4,6,6,6,7,8],
[3,4,4,-2,-2,0,4,3,-1,-5,-6,3,2,0,2,-2,-3,2,1],
[6,1,-4,-10,-14,-10,-2,-3,-9,-9,-4,-2,-6,-3,-7,-6,-8,1,-1,4],
[-10,-6,-6,-5,-5,-8,-5,-4,-8,-7,-9,-6,-4,-5,-9,-6,-4,-9,-10],
[-5,-6,-12,-10,-4,-3,-4,-5,-8,-10,-3,-7,-8,-5,-3,-9,-5,-9,-13,-7,-3,-1,1],
[1,-1,-1,-2,5,-5,-5,-14,-6,-9,-12,-10,-8,-4,-1,-8,-10,-7,-7,-10,-3,-2],
[-1,6,3,-4,-6,-6,-7,-13,-6,-4,-14,-16,-12,-6,-5,-10,-12,-12,-10,-7,-3,-4],
[-8,-10,-7,-6,-9,-14,-4,-8,-14,-14,-10,-10,-5,-8,-12,-10,-12,-4],
[-8,-5,-5,-8,-7,-5,-8,-7,-16,-18,-16,-10,-6,-4,-8,-12,-4],
[-12,-9,-8,-7,-12,-8,-6,-22,-24,-26,-24,-10,-4,-4,-3,-14,-4],
[-7,-6,-7,-6,-4,-24,-26,-26,-10],
[-3,-3,-1,-1,-1,-16,-4,-4,-10],
[-2]];

const maps=document.getElementById('maps');
const axesLayer=document.getElementById('axes');
const legends=document.getElementById('legends');
const NS='http://www.w3.org/2000/svg';
const panelLefts=[130,485,842];
const panelSize=338;
const rowTops=[187,540.4,893.8,1247.2,1600.6,1954];
const panelHeight=336.6;
const kpcRange=5;
const rowsData=[
[north0,south0,ratio0],[north1,south1,ratio1],[north2,south2,ratio2],
[north3,south3,ratio3],[north4,south4,ratio4],[north5,south5,ratio5]];
const legendBoxes=[[337.5,274],[318.5,313],[308.5,332],[308.5,332],[308.5,332],[308.5,332]];

function mk(tag,attrs,parent){const e=document.createElementNS(NS,tag);for(const k in attrs)e.setAttribute(k,attrs[k]);parent.appendChild(e);return e;}
function poly(c,t){let r=c[5];for(let i=4;i>=0;i--)r=r*t+c[i];return Math.max(0,Math.min(255,Math.round(r*255)));}
const turboR=[0.13572138,4.61539260,-42.66032258,132.13108234,-152.94239396,59.28637943];
const turboG=[0.09140261,2.19418839,4.84296658,-14.18503333,4.27729857,2.82956604];
const turboB=[0.10667330,12.64194608,-60.58204836,110.36276771,-89.90310912,27.34824973];
function turbo(t){t=Math.max(0,Math.min(1,t));return 'rgb('+poly(turboR,t)+','+poly(turboG,t)+','+poly(turboB,t)+')';}
function seismic(t){t=Math.max(0,Math.min(1,t));let r,g,b;
 if(t<.25){r=0;g=0;b=.3+.7*t/.25;}else if(t<.5){const u=(t-.25)/.25;r=u;g=u;b=1;}
 else if(t<.75){const u=(t-.5)/.25;r=1;g=1-u;b=1-u;}else{const u=(t-.75)/.25;r=1-.5*u;g=0;b=0;}
 return 'rgb('+Math.round(r*255)+','+Math.round(g*255)+','+Math.round(b*255)+')';}
const densityColor=v=>turbo((v-0.6)/1.1);
const ratioColor=v=>seismic((v+0.3)/0.6);
const sx=(left,Y)=>left+(Y+2.5)/kpcRange*panelSize;
const sy=(top,X)=>top+(X+2.5)/kpcRange*panelHeight;

function covered(runs){const out=[];runs.split(' ').forEach(p=>{const q=p.split('-').map(Number);const a=q[0],b=q.length>1?q[1]:q[0];for(let i=a;i<=b;i++)out.push(i);});return out;}

rowsData.forEach((row,r)=>{
 const top=rowTops[r];
 row.forEach((grid,c)=>{
  const left=panelLefts[c];
  const g=mk('g',{},maps);
  
  
  const bottom=top+panelHeight,right=left+panelSize;
  coverageRuns.forEach((runs,j)=>{
   const B=Math.floor(j/2);
   covered(runs).forEach(i=>{
    const C=Math.floor(i/2);
    const v=grid[B]?grid[B][C-rowStart[B]]:undefined;
    if(v===undefined)return;
    const val=v/100;
    const x0=Math.max(left,sx(left,-2.55+0.1*i)),x1=Math.min(right,sx(left,-2.45+0.1*i));
    const y0=Math.max(top,sy(top,-2.55+0.1*j)),y1=Math.min(bottom,sy(top,-2.45+0.1*j));
    const cell=mk('rect',{x:x0.toFixed(2),y:y0.toFixed(2),width:(x1-x0+0.3).toFixed(2),height:(y1-y0+0.3).toFixed(2),fill:c<2?densityColor(val):ratioColor(val),'shape-rendering':'crispEdges'},g);
    
    
   });
  });
  const frame=mk('rect',{x:left,y:top,width:panelSize,height:panelHeight,fill:'none',stroke:'#000','stroke-width':2.4},axesLayer);
  
  
  axisTicks.forEach(t=>{
   const px=sx(left,t),py=sy(top,t);
   [[px,top,px,top+10],[px,bottom,px,bottom-10],[left,py,left+10,py],[right,py,right-10,py]].forEach(p=>{
    const tk=mk('line',{x1:p[0],y1:p[1],x2:p[2],y2:p[3],stroke:'#000','stroke-width':2.2},axesLayer);
    
    
   });
   if(c===0){
    const yl=mk('text',{x:117,y:py+14,'text-anchor':'end','font-size':42},axesLayer);
    yl.textContent=(t<0?'−':'')+Math.abs(t);
    
    
   }
   if(r===5){
    const xl=mk('text',{x:px-(t<0?2:0),y:2328,'text-anchor':'middle','font-size':42},axesLayer);
    xl.textContent=(t<0?'−':'')+Math.abs(t);
    
    
   }
  });
  if(r===5){
   const lab=mk('text',{x:left+169,y:2375,'text-anchor':'middle','font-size':42},axesLayer);
   
   
   const a=mk('tspan',{'font-style':'italic'},lab);a.textContent='Y';
   const b=mk('tspan',{},lab);b.textContent=' (kpc)';
  }
 });
 const cy=top+panelHeight/2;
 const lab=mk('text',{x:50,y:cy,'text-anchor':'middle','font-size':42,transform:'rotate(-90 50 '+cy+')'},axesLayer);
 
 
 const a=mk('tspan',{'font-style':'italic'},lab);a.textContent='X';
 const b=mk('tspan',{},lab);b.textContent=' (kpc)';
});

// colour bars
const cbarTop=69,cbarH=34;
[[130,densityColor,0.6,1.7,densityTicks],[485,densityColor,0.6,1.7,densityTicks],[842,ratioColor,-0.3,0.3,asymmetryTicks]].forEach(cfg=>{
 const left=cfg[0],fn=cfg[1],lo=cfg[2],hi=cfg[3],ticks=cfg[4];
 const g=mk('g',{},axesLayer);
 
 
 for(let k=0;k<panelSize;k+=2){
  const s=mk('rect',{x:left+k,y:cbarTop,width:2.5,height:cbarH,fill:fn(lo+(hi-lo)*(k+1)/panelSize),'shape-rendering':'crispEdges'},g);
  
  
 }
 const f=mk('rect',{x:left,y:cbarTop,width:panelSize,height:cbarH,fill:'none',stroke:'#000','stroke-width':2.2},g);
 
 
 ticks.forEach(t=>{
  const px=left+(t-lo)/(hi-lo)*panelSize;
  const tk=mk('line',{x1:px,y1:cbarTop+cbarH,x2:px,y2:cbarTop+cbarH+10,stroke:'#000','stroke-width':2.2},g);
  
  
  const tl=mk('text',{x:px-(t<0?2:0),y:151,'text-anchor':'middle','font-size':42},g);
  tl.textContent=(t<0?'−':'')+Math.abs(t).toFixed(1);
  
  
 });
});

// height-bin labels
heightBins.forEach((label,r)=>{
 const box=legendBoxes[r],y=rowTops[r]+262;
 const g=mk('g',{},legends);
 
 
 const b=mk('rect',{x:box[0],y:y,width:box[1],height:63.5,fill:'#fff','fill-opacity':.8,stroke:'#000','stroke-opacity':.7,'stroke-width':2.6},g);
 
 
 const t=mk('text',{x:box[0]+box[1]/2,y:y+43,'text-anchor':'middle','font-size':42,'word-spacing':4.5},g);
 
 
 const parts=label.split('z');
 const p0=mk('tspan',{},t);p0.textContent=parts[0];
 const pz=mk('tspan',{'font-style':'italic'},t);pz.textContent='z';
 const p1=mk('tspan',{},t);p1.textContent=parts[1];
});
</script>
</body></html>
